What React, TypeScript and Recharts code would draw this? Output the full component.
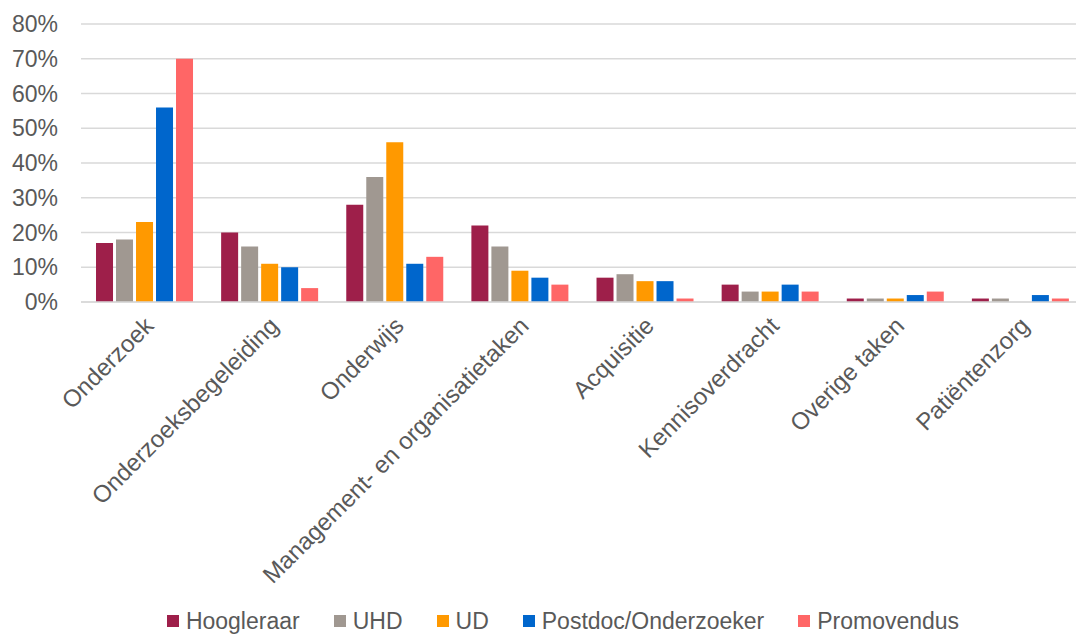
import React from "react";
import {
  BarChart,
  Bar,
  XAxis,
  YAxis,
  CartesianGrid,
  Legend,
} from "recharts";

const categories = [
  "Onderzoek",
  "Onderzoeksbegeleiding",
  "Onderwijs",
  "Management- en organisatietaken",
  "Acquisitie",
  "Kennisoverdracht",
  "Overige taken",
  "Patiëntenzorg",
];

const hoogleraar = [17, 20, 28, 22, 7, 5, 1, 1];
const uhd = [18, 16, 36, 16, 8, 3, 1, 1];
const ud = [23, 11, 46, 9, 6, 3, 1, 0];
const postdoc = [56, 10, 11, 7, 6, 5, 2, 2];
const promovendus = [70, 4, 13, 5, 1, 3, 3, 1];

const yTicks = [0, 10, 20, 30, 40, 50, 60, 70, 80];

const series = [
  { key: "Hoogleraar", values: hoogleraar, color: "#9e1f4a" },
  { key: "UHD", values: uhd, color: "#a09891" },
  { key: "UD", values: ud, color: "#ff9900" },
  { key: "Postdoc/Onderzoeker", values: postdoc, color: "#0066cc" },
  { key: "Promovendus", values: promovendus, color: "#ff6666" },
];

const data = categories.map((name, i) => {
  const row: Record<string, any> = { name };
  series.forEach((s) => (row[s.key] = s.values[i]));
  return row;
});

const FONT = "'Liberation Sans', Arial, sans-serif";

const CategoryTick = ({ x, y, payload }: any) => (
  <text
    x={x}
    y={y + 6}
    dy={16}
    textAnchor="end"
    transform={`rotate(-45 ${x} ${y + 6})`}
    fill="#595959"
    fontSize={24}
    fontFamily={FONT}
  >
    {payload.value}
  </text>
);

// legend is drawn from the series list so the order stays fixed
const renderLegend = () => (
  <div
    style={{
      display: "flex",
      justifyContent: "center",
      gap: 34,
      fontFamily: FONT,
      fontSize: 23,
      lineHeight: "26px",
      height: 26,
      color: "#595959",
      paddingLeft: 44,
    }}
  >
    {series.map((s) => (
      <div key={s.key} style={{ display: "flex", alignItems: "center", gap: 7 }}>
        <span
          style={{
            display: "inline-block",
            width: 12,
            height: 12,
            backgroundColor: s.color,
          }}
        />
        <span>{s.key}</span>
      </div>
    ))}
  </div>
);

export default function App() {
  return (
    <div style={{ margin: -8, width: 1084, height: 643, background: "#fff" }}>
      <BarChart
        width={1084}
        height={643}
        data={data}
        margin={{ top: 24, right: 2, bottom: 0, left: 0 }}
        barCategoryGap="12%"
        barGap={3}
      >
        <CartesianGrid vertical={false} stroke="#d9d9d9" strokeWidth={1.5} />
        <XAxis
          dataKey="name"
          interval={0}
          height={315}
          tick={<CategoryTick />}
          tickLine={false}
          axisLine={{ stroke: "#d9d9d9", strokeWidth: 1.5 }}
        />
        <YAxis
          domain={[0, 80]}
          ticks={yTicks}
          width={81}
          tickSize={0}
          tickMargin={23}
          tickLine={false}
          axisLine={false}
          tickFormatter={(v: number) => `${v}%`}
          tick={{ fill: "#595959", fontSize: 23, fontFamily: FONT }}
        />
        {series.map((s) => (
          <Bar
            key={s.key}
            dataKey={s.key}
            fill={s.color}
            isAnimationActive={false}
          />
        ))}
        <Legend
          verticalAlign="bottom"
          content={renderLegend}
          wrapperStyle={{ bottom: 9 }}
        />
      </BarChart>
    </div>
  );
}
